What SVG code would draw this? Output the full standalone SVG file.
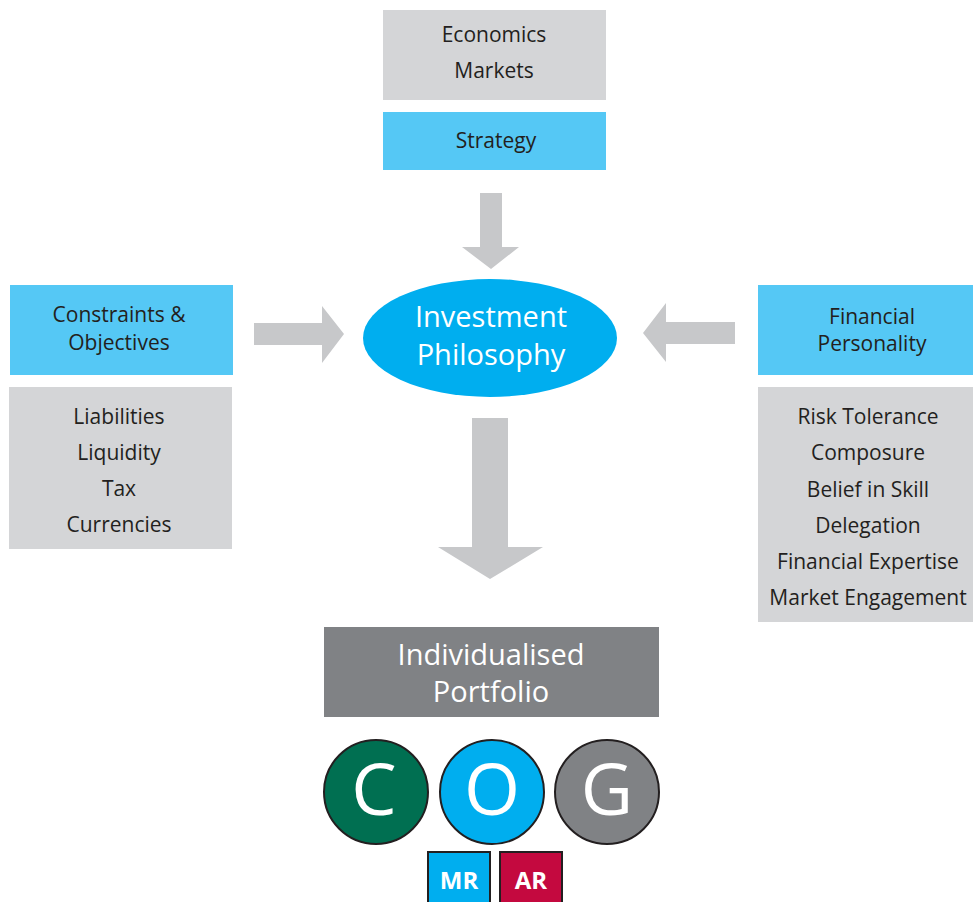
<svg xmlns="http://www.w3.org/2000/svg" width="973" height="902" viewBox="0 0 973 902">
  <style>
    .box-blue { fill: #55c8f5; }
    .box-grey { fill: #d4d5d7; }
    .arrow { fill: #c7c8ca; }
    .lbl { font-family: "Open Sans", "Noto Sans", sans-serif; font-size: 21px; fill: #231f20; text-anchor: middle; }
    .big { font-family: "Open Sans", "Noto Sans", sans-serif; font-size: 29px; fill: #ffffff; text-anchor: middle; }
    .cog { font-family: "Open Sans", "Noto Sans", sans-serif; font-size: 72px; fill: #ffffff; text-anchor: middle; }
    .tag { font-family: "Open Sans", "Noto Sans", sans-serif; font-size: 24px; font-weight: bold; fill: #ffffff; text-anchor: middle; }
    .ring { stroke: #231f20; stroke-width: 2; }
  </style>
  <rect width="973" height="902" fill="#ffffff"/>

  <!-- connectors: block arrows -->
  <g id="connectors">
    <polygon class="arrow" points="480,193 502,193 502,247 519,247 491,269 462,247 480,247"/>
    <polygon class="arrow" points="254,323 322,323 322,306 344,334 322,363 322,345 254,345"/>
    <polygon class="arrow" points="735,322 666,322 666,303 643,333 666,362 666,344 735,344"/>
    <polygon class="arrow" points="472,418 508,418 508,547 543,547 490,579 438,547 472,547"/>
  </g>

  <!-- top: market context and strategy -->
  <g id="node-economics">
    <rect class="box-grey" x="383" y="10" width="223" height="90"/>
    <text class="lbl" x="494" y="42">Economics</text>
    <text class="lbl" x="494" y="78">Markets</text>
  </g>
  <g id="node-strategy">
    <rect class="box-blue" x="383" y="112" width="223" height="58"/>
    <text class="lbl" x="496" y="148">Strategy</text>
  </g>

  <!-- centre -->
  <g id="node-philosophy">
    <ellipse cx="490" cy="338" rx="127" ry="59" fill="#00aeef"/>
    <text class="big" x="491" y="327">Investment</text>
    <text class="big" x="491" y="365">Philosophy</text>
  </g>

  <!-- left side -->
  <g id="node-constraints">
    <rect class="box-blue" x="10" y="285" width="223" height="90"/>
    <text class="lbl" x="119" y="322">Constraints &amp;</text>
    <text class="lbl" x="119" y="350">Objectives</text>
  </g>
  <g id="node-constraint-list">
    <rect class="box-grey" x="9" y="387" width="223" height="162"/>
    <text class="lbl" x="119" y="424">Liabilities</text>
    <text class="lbl" x="119" y="460">Liquidity</text>
    <text class="lbl" x="119" y="496">Tax</text>
    <text class="lbl" x="119" y="532">Currencies</text>
  </g>

  <!-- right side -->
  <g id="node-personality">
    <rect class="box-blue" x="758" y="285" width="215" height="90"/>
    <text class="lbl" x="872" y="324">Financial</text>
    <text class="lbl" x="872" y="351">Personality</text>
  </g>
  <g id="node-personality-list">
    <rect class="box-grey" x="758" y="387" width="215" height="235"/>
    <text class="lbl" x="868" y="424">Risk Tolerance</text>
    <text class="lbl" x="868" y="460">Composure</text>
    <text class="lbl" x="868" y="497">Belief in Skill</text>
    <text class="lbl" x="868" y="533">Delegation</text>
    <text class="lbl" x="868" y="569">Financial Expertise</text>
    <text class="lbl" x="868" y="605">Market Engagement</text>
  </g>

  <!-- outcome -->
  <g id="node-portfolio">
    <rect x="324" y="627" width="335" height="90" fill="#808285"/>
    <text class="big" x="491" y="665">Individualised</text>
    <text class="big" x="491" y="702">Portfolio</text>
  </g>

  <g id="node-c">
    <circle class="ring" cx="376" cy="792" r="52" fill="#006f51"/>
    <text class="cog" x="374" y="815">C</text>
  </g>
  <g id="node-o">
    <circle class="ring" cx="492" cy="792" r="52" fill="#00aeef"/>
    <text class="cog" x="492" y="815">O</text>
  </g>
  <g id="node-g">
    <circle class="ring" cx="607" cy="792" r="52" fill="#808285"/>
    <text class="cog" x="607" y="815">G</text>
  </g>

  <g id="node-mr">
    <rect class="ring" x="428" y="852" width="62" height="56" fill="#00aeef"/>
    <text class="tag" x="459" y="889">MR</text>
  </g>
  <g id="node-ar">
    <rect class="ring" x="500" y="852" width="62" height="56" fill="#c4093f"/>
    <text class="tag" x="531" y="889">AR</text>
  </g>
</svg>
